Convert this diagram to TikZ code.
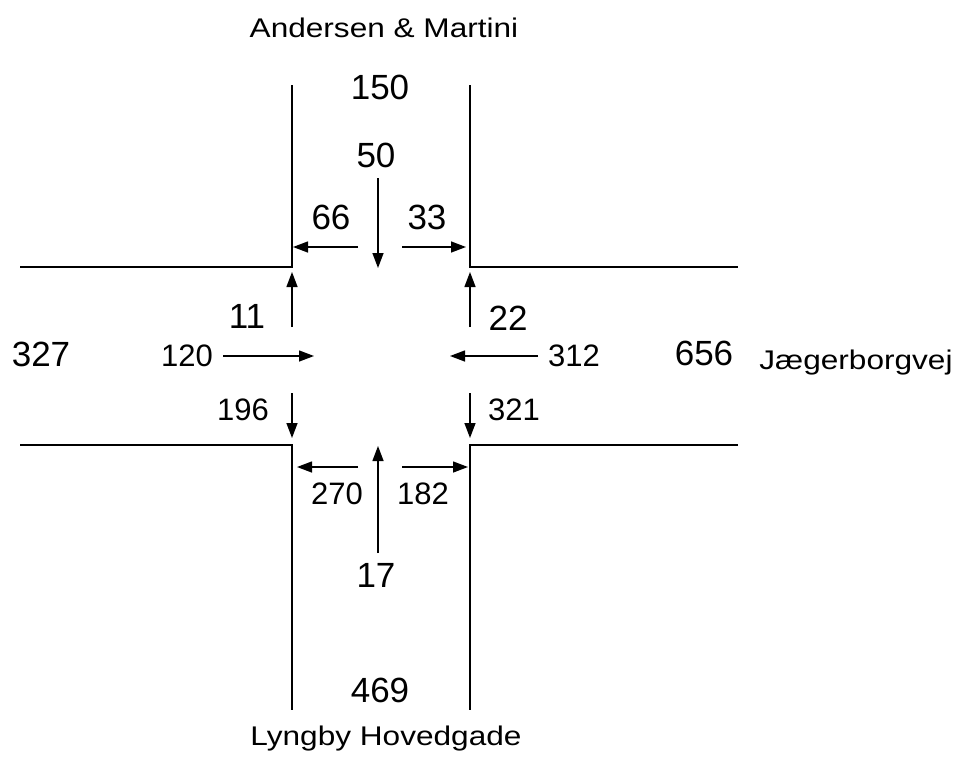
\documentclass[tikz,border=0pt]{standalone}
\usepackage{fontspec}
\setmainfont{Liberation Sans}
\usetikzlibrary{arrows.meta}
\newcommand{\streetname}[1]{\scalebox{1.17}[1]{#1}}

\begin{document}
\begin{tikzpicture}[x=1pt,y=-1pt,>={Triangle[length=15pt,width=11pt]},
  road/.style={line width=2.2pt},
  flow/.style={->,line width=1.4pt},
  big/.style={font=\fontsize{35}{40}\selectfont},
  small/.style={font=\fontsize{31}{36}\selectfont},
  street/.style={font=\fontsize{27}{32}\selectfont,anchor=base}]
\useasboundingbox (0,0) rectangle (958,758);
% roads
\draw[road] (292,85)--(292,267)--(20,267);
\draw[road] (470,85)--(470,267)--(738,267);
\draw[road] (20,445)--(292,445)--(292,710);
\draw[road] (738,445)--(470,445)--(470,710);
% turning flows
\foreach \xa/\ya/\xb/\yb in {378/178/378/268, 358/247/293/247, 402/247/466/247,
    292/327/292/272, 470/327/470/272, 223/356/314/356, 538/356/450/356,
    292/393/292/438, 470/393/470/438, 358/467/297/467, 402/467/468/467,
    378/553/378/446}
  {\draw[flow] (\xa,\ya)--(\xb,\yb);}
% counts
\foreach \t/\x/\y in {150/380/87, 469/380/690, 327/41/354, 656/704/353, 50/376/155,
    66/331/217, 33/427/217, 11/247/316, 22/508/318, 17/376/575}
  {\node[big] (n\t) at (\x,\y) {\t};}
\foreach \t/\x/\y in {120/187/356, 312/574/356, 196/243/410, 321/514/410,
    270/337/494, 182/423/494}
  {\node[small] (n\t) at (\x,\y) {\t};}
% street names
\node[street] (north) at (384,37) {\streetname{Andersen \& Martini}};
\node[street] (south) at (386,745) {\streetname{Lyngby Hovedgade}};
\node[street] (east) at (856,369) {\streetname{Jægerborgvej}};
\end{tikzpicture}
\end{document}
